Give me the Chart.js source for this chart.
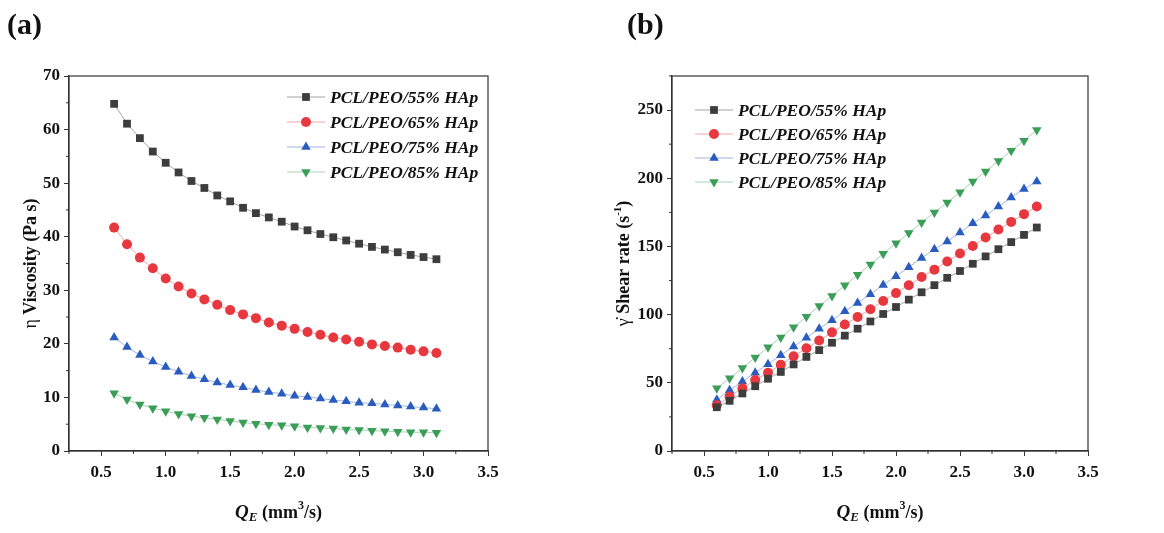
<!DOCTYPE html>
<html>
<head>
<meta charset="utf-8">
<script src="https://cdn.jsdelivr.net/npm/chart.js"></script>
<style>
  body { margin: 0; background: #fff; width: 1164px; height: 533px; overflow: hidden; position: relative; }
  canvas { position: absolute; top: 0; }
</style>
</head>
<body>
<canvas id="chartA" width="580" height="533" style="left:0"></canvas>
<canvas id="chartB" width="584" height="533" style="left:580px"></canvas>
<script>
// flow rate Q_E (mm^3/s)
const qE = [0.6, 0.7, 0.8, 0.9, 1.0, 1.1, 1.2, 1.3, 1.4, 1.5, 1.6, 1.7, 1.8,
            1.9, 2.0, 2.1, 2.2, 2.3, 2.4, 2.5, 2.6, 2.7, 2.8, 2.9, 3.0, 3.1];

const seriesLabels = ['PCL/PEO/55% HAp', 'PCL/PEO/65% HAp', 'PCL/PEO/75% HAp', 'PCL/PEO/85% HAp'];

// (a) viscosity, Pa s
const visc55 = [64.8, 61.1, 58.4, 55.9, 53.8, 52.0, 50.4, 49.1, 47.7, 46.6, 45.4, 44.4, 43.6,
                42.8, 41.9, 41.2, 40.5, 39.9, 39.3, 38.7, 38.1, 37.6, 37.1, 36.6, 36.2, 35.8];
const visc65 = [41.7, 38.6, 36.1, 34.1, 32.2, 30.7, 29.4, 28.3, 27.3, 26.3, 25.5, 24.8, 24.0,
                23.4, 22.8, 22.2, 21.7, 21.2, 20.8, 20.4, 19.9, 19.6, 19.3, 18.9, 18.6, 18.3];
const visc75 = [21.2, 19.4, 17.9, 16.7, 15.7, 14.8, 14.0, 13.4, 12.8, 12.3, 11.9, 11.4, 11.0,
                10.7, 10.3, 10.1, 9.8, 9.5, 9.3, 9.0, 8.9, 8.7, 8.5, 8.3, 8.1, 7.9];
const visc85 = [10.8, 9.6, 8.7, 8.0, 7.4, 6.9, 6.5, 6.2, 5.9, 5.6, 5.3, 5.1, 4.9,
                4.8, 4.6, 4.4, 4.3, 4.2, 4.0, 3.9, 3.8, 3.7, 3.6, 3.5, 3.5, 3.4];

// (b) shear rate, 1/s
const shear55 = [32.1, 36.8, 42.2, 47.5, 53.0, 58.0, 63.5, 69.0, 74.0, 79.4, 84.6, 89.7, 95.0,
                 100.5, 105.6, 111.0, 116.4, 121.6, 127.0, 132.0, 137.3, 142.7, 148.0, 153.2, 158.5, 163.9];
const shear65 = [33.5, 40.0, 46.0, 52.0, 57.4, 63.3, 69.5, 75.3, 81.0, 87.0, 92.8, 98.3, 104.0,
                 110.0, 115.8, 121.6, 127.6, 133.0, 139.0, 144.8, 150.3, 156.6, 162.4, 168.0, 173.7, 179.3];
const shear75 = [37.5, 44.6, 51.0, 57.4, 63.7, 70.3, 76.7, 83.0, 89.7, 95.8, 102.5, 108.6, 115.0,
                 121.8, 128.2, 134.8, 141.5, 148.0, 153.7, 160.2, 167.0, 172.7, 179.3, 185.9, 192.2, 197.6];
const shear85 = [46.0, 53.4, 60.8, 68.6, 76.0, 83.3, 90.7, 98.5, 106.4, 113.7, 121.6, 129.2, 136.8,
                 144.6, 152.4, 159.8, 167.6, 174.9, 182.2, 189.8, 197.6, 204.9, 212.7, 220.2, 227.6, 235.4];

const xTicks = [0.5, 1.0, 1.5, 2.0, 2.5, 3.0, 3.5];
const yTicksA = [0, 10, 20, 30, 40, 50, 60, 70];
const yTicksB = [0, 50, 100, 150, 200, 250];

const markerColors = ['#3d3d3d', '#e8383f', '#2a5cbf', '#3a9e58'];
const lineColors = ['rgba(90,90,90,0.55)', 'rgba(232,56,63,0.45)', 'rgba(42,92,191,0.45)', 'rgba(58,158,88,0.45)'];
const styles = [
  { pointStyle: 'rect', radius: 5.5, rotation: 0 },
  { pointStyle: 'circle', radius: 5, rotation: 0 },
  { pointStyle: 'triangle', radius: 5.5, rotation: 0 },
  { pointStyle: 'triangle', radius: 5.5, rotation: 180 }
];

const serif = "'Liberation Serif', 'Times New Roman', serif";
const axisColor = '#333';

function makeDatasets(seriesList) {
  return seriesList.map((vals, i) => ({
    label: seriesLabels[i],
    data: qE.map((x, k) => ({ x: x, y: vals[k] })),
    showLine: true,
    borderColor: lineColors[i],
    borderWidth: 1,
    backgroundColor: markerColors[i],
    pointBackgroundColor: markerColors[i],
    pointBorderColor: markerColors[i],
    pointBorderWidth: 0,
    pointStyle: styles[i].pointStyle,
    pointRadius: styles[i].radius,
    pointRotation: styles[i].rotation,
    tension: 0
  }));
}

function drawMarker(ctx, st, color, x, y) {
  ctx.save();
  ctx.fillStyle = color;
  ctx.translate(x, y);
  ctx.rotate(st.rotation * Math.PI / 180);
  const r = st.radius;
  ctx.beginPath();
  if (st.pointStyle === 'rect') {
    const s = Math.SQRT1_2 * r;
    ctx.rect(-s, -s, 2 * s, 2 * s);
  } else if (st.pointStyle === 'circle') {
    ctx.arc(0, 0, r, 0, Math.PI * 2);
  } else {
    ctx.moveTo(0, -r);
    ctx.lineTo(r * Math.sin(Math.PI * 2 / 3), r * 0.5);
    ctx.lineTo(-r * Math.sin(Math.PI * 2 / 3), r * 0.5);
    ctx.closePath();
  }
  ctx.fill();
  ctx.restore();
}

// rich text: list of [text, font, dy]
function drawRich(ctx, parts, cx, cy, rotate) {
  ctx.save();
  ctx.translate(cx, cy);
  if (rotate) ctx.rotate(-Math.PI / 2);
  let total = 0;
  parts.forEach(p => { ctx.font = p[1]; total += ctx.measureText(p[0]).width; });
  let x = -total / 2;
  ctx.fillStyle = '#111';
  ctx.textBaseline = 'middle';
  ctx.textAlign = 'left';
  parts.forEach(p => {
    ctx.font = p[1];
    ctx.fillText(p[0], x, p[2] || 0);
    x += ctx.measureText(p[0]).width;
  });
  ctx.restore();
}

const decorPlugin = {
  id: 'decor',
  afterDraw(chart, args, opts) {
    const ctx = chart.ctx;
    const a = chart.chartArea;
    const xs = chart.scales.x, ys = chart.scales.y;

    // frame
    ctx.save();
    ctx.strokeStyle = axisColor;
    ctx.lineWidth = 1.2;
    ctx.strokeRect(a.left, a.top, a.right - a.left, a.bottom - a.top);

    // minor ticks halfway between majors
    ctx.lineWidth = 1;
    ctx.beginPath();
    const xm = [xs.min].concat(xTicks.slice(0, -1).map((v, i) => (v + xTicks[i + 1]) / 2));
    xm.forEach(v => {
      const px = xs.getPixelForValue(v);
      ctx.moveTo(px, a.bottom); ctx.lineTo(px, a.bottom + 3);
    });
    const yt = opts.yTicks;
    const ym = yt.map((v, i) => i < yt.length - 1 ? (v + yt[i + 1]) / 2 : v + (v - yt[i - 1]) / 2)
                 .filter(v => v <= ys.max);
    ym.forEach(v => {
      const py = ys.getPixelForValue(v);
      ctx.moveTo(a.left, py); ctx.lineTo(a.left - 3, py);
    });
    ctx.stroke();
    ctx.restore();

    // legend inside plot
    const lg = opts.legend;
    chart.data.datasets.forEach((ds, i) => {
      const y = lg.y + i * lg.gap;
      ctx.save();
      ctx.strokeStyle = ds.borderColor;
      ctx.lineWidth = 1;
      ctx.beginPath();
      ctx.moveTo(lg.x, y); ctx.lineTo(lg.x + 38, y);
      ctx.stroke();
      ctx.restore();
      drawMarker(ctx, styles[i], markerColors[i], lg.x + 19, y);
      ctx.save();
      ctx.font = "italic bold 17.5px " + serif;
      ctx.fillStyle = '#111';
      ctx.textBaseline = 'middle';
      ctx.fillText(ds.label, lg.x + 43, y + 1);
      ctx.restore();
    });

    // axis titles
    const cx = (a.left + a.right) / 2;
    drawRich(ctx, [
      ['Q', "italic bold 19px " + serif, 0],
      ['E', "italic bold 13px " + serif, 5],
      [' (mm', "bold 18px " + serif, 0],
      ['3', "bold 12px " + serif, -7],
      ['/s)', "bold 18px " + serif, 0]
    ], cx, 513, false);
    drawRich(ctx, opts.yTitle, opts.yTitleX, (a.top + a.bottom) / 2, true);

    // panel label
    ctx.save();
    ctx.font = "bold 30px " + serif;
    ctx.fillStyle = '#111';
    ctx.textBaseline = 'middle';
    ctx.fillText(opts.panel, opts.panelX, 26);
    ctx.restore();
  }
};

function makeChart(id, seriesList, yMax, yTicks, yAxisWidth, rightPad, decor) {
  return new Chart(document.getElementById(id), {
    type: 'scatter',
    data: { datasets: makeDatasets(seriesList) },
    options: {
      responsive: false,
      animation: false,
      layout: { padding: { top: 76, right: rightPad, left: 0, bottom: 0 } },
      plugins: { legend: { display: false }, tooltip: { enabled: false }, decor: decor },
      scales: {
        x: {
          type: 'linear', min: 0.25, max: 3.5,
          afterBuildTicks: s => { s.ticks = xTicks.map(v => ({ value: v })); },
          afterFit: s => { s.height = 82; },
          ticks: { callback: v => v.toFixed(1), color: '#111', padding: 6, maxRotation: 0,
                   font: { family: serif, size: 17, weight: 'bold' } },
          grid: { drawOnChartArea: false, drawTicks: true, tickLength: 5, color: axisColor },
          border: { display: true, color: axisColor, width: 1.2 }
        },
        y: {
          type: 'linear', min: 0, max: yMax,
          afterBuildTicks: s => { s.ticks = yTicks.map(v => ({ value: v })); },
          afterFit: s => { s.width = yAxisWidth; },
          ticks: { color: '#111', padding: 4,
                   font: { family: serif, size: 17, weight: 'bold' } },
          grid: { drawOnChartArea: false, drawTicks: true, tickLength: 5, color: axisColor },
          border: { display: true, color: axisColor, width: 1.2 }
        }
      }
    },
    plugins: [decorPlugin]
  });
}

makeChart('chartA', [visc55, visc65, visc75, visc85], 70, yTicksA, 69, 92, {
  yTicks: yTicksA,
  legend: { x: 287, y: 97, gap: 25 },
  yTitle: [['η', "18px " + serif, 0], [' Viscosity (Pa s)', "bold 18px " + serif, 0]],
  yTitleX: 31,
  panel: '(a)', panelX: 7
});

makeChart('chartB', [shear55, shear65, shear75, shear85], 275, yTicksB, 92, 76, {
  yTicks: yTicksB,
  legend: { x: 115, y: 110, gap: 24 },
  yTitle: [['γ̇', "18px " + serif, 0], [' Shear rate (s', "bold 18px " + serif, 0],
           ['-1', "bold 11px " + serif, -6], [')', "bold 18px " + serif, 0]],
  yTitleX: 44,
  panel: '(b)', panelX: 47
});
</script>
</body>
</html>
